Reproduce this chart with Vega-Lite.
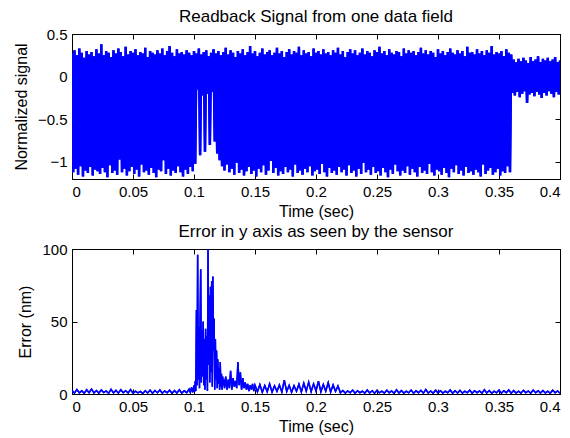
{
"$schema": "https://vega.github.io/schema/vega-lite/v6.json",
"padding": {"left": 12, "top": 7, "right": 9, "bottom": 2},
"config": {
  "font": "Liberation Sans",
  "view": {"stroke": "black", "strokeWidth": 1},
  "axis": {"grid": false, "domainColor": "black", "tickColor": "black", "labelColor": "black", "titleColor": "black", "labelFontSize": 15, "titleFontSize": 16, "titleFontWeight": "normal", "tickSize": -5, "labelPadding": 10},
  "axisX": {"titlePadding": 4},
  "axisY": {"titlePadding": 8},
  "title": {"fontSize": 17, "fontWeight": "normal", "color": "black", "offset": 1}
},
"datasets": {
"sig": [
{"t":0.000,"v":0.27},{"t":0.001,"v":-1.12},{"t":0.002,"v":0.31},{"t":0.003,"v":-1.08},{"t":0.004,"v":0.25},{"t":0.005,"v":-1.15},{"t":0.006,"v":0.33},{"t":0.007,"v":-1.05},{"t":0.008,"v":0.28},{"t":0.009,"v":-1.17},
{"t":0.010,"v":0.22},{"t":0.011,"v":-1.10},{"t":0.012,"v":0.30},{"t":0.013,"v":-1.13},{"t":0.014,"v":0.26},{"t":0.015,"v":-1.06},{"t":0.016,"v":0.29},{"t":0.017,"v":-1.16},{"t":0.018,"v":0.24},{"t":0.019,"v":-1.09},
{"t":0.020,"v":0.32},{"t":0.021,"v":-1.11},{"t":0.022,"v":0.27},{"t":0.023,"v":-1.14},{"t":0.024,"v":0.38},{"t":0.025,"v":-1.07},{"t":0.026,"v":0.25},{"t":0.027,"v":-1.12},{"t":0.028,"v":0.30},{"t":0.029,"v":-1.18},
{"t":0.030,"v":0.28},{"t":0.031,"v":-1.04},{"t":0.032,"v":0.23},{"t":0.033,"v":-1.13},{"t":0.034,"v":0.31},{"t":0.035,"v":-1.10},{"t":0.036,"v":0.27},{"t":0.037,"v":-1.15},{"t":0.038,"v":0.33},{"t":0.039,"v":-0.97},
{"t":0.040,"v":0.29},{"t":0.041,"v":-1.12},{"t":0.042,"v":0.24},{"t":0.043,"v":-1.08},{"t":0.044,"v":0.35},{"t":0.045,"v":-1.16},{"t":0.046,"v":0.26},{"t":0.047,"v":-1.11},{"t":0.048,"v":0.30},{"t":0.049,"v":-1.06},
{"t":0.050,"v":0.28},{"t":0.051,"v":-1.14},{"t":0.052,"v":0.32},{"t":0.053,"v":-1.09},{"t":0.054,"v":0.25},{"t":0.055,"v":-1.17},{"t":0.056,"v":0.29},{"t":0.057,"v":-1.03},{"t":0.058,"v":0.27},{"t":0.059,"v":-1.12},
{"t":0.060,"v":0.34},{"t":0.061,"v":-1.10},{"t":0.062,"v":0.23},{"t":0.063,"v":-1.15},{"t":0.064,"v":0.30},{"t":0.065,"v":-1.07},{"t":0.066,"v":0.28},{"t":0.067,"v":-1.13},{"t":0.068,"v":0.26},{"t":0.069,"v":-1.18},
{"t":0.070,"v":0.31},{"t":0.071,"v":-1.09},{"t":0.072,"v":0.27},{"t":0.073,"v":-1.11},{"t":0.074,"v":0.33},{"t":0.075,"v":-0.98},{"t":0.076,"v":0.25},{"t":0.077,"v":-1.14},{"t":0.078,"v":0.30},{"t":0.079,"v":-1.08},
{"t":0.080,"v":0.36},{"t":0.081,"v":-1.16},{"t":0.082,"v":0.28},{"t":0.083,"v":-1.10},{"t":0.084,"v":0.24},{"t":0.085,"v":-1.13},{"t":0.086,"v":0.32},{"t":0.087,"v":-1.05},{"t":0.088,"v":0.27},{"t":0.089,"v":-1.12},
{"t":0.090,"v":0.29},{"t":0.091,"v":-1.17},{"t":0.092,"v":0.26},{"t":0.093,"v":-1.09},{"t":0.094,"v":0.31},{"t":0.095,"v":-1.14},{"t":0.096,"v":0.28},{"t":0.097,"v":-1.06},{"t":0.098,"v":0.25},{"t":0.099,"v":-1.11},
{"t":0.100,"v":0.30},{"t":0.101,"v":-1.02},{"t":0.102,"v":0.27},{"t":0.103,"v":-0.15},{"t":0.104,"v":0.33},{"t":0.105,"v":-0.92},{"t":0.106,"v":0.26},{"t":0.107,"v":-0.22},{"t":0.108,"v":0.29},{"t":0.109,"v":-0.88},
{"t":0.110,"v":0.31},{"t":0.111,"v":-0.20},{"t":0.112,"v":0.24},{"t":0.113,"v":-0.80},{"t":0.114,"v":0.28},{"t":0.115,"v":-0.18},{"t":0.116,"v":0.32},{"t":0.117,"v":-0.76},{"t":0.118,"v":0.27},{"t":0.119,"v":-0.90},
{"t":0.120,"v":0.30},{"t":0.121,"v":-0.98},{"t":0.122,"v":0.25},{"t":0.123,"v":-1.05},{"t":0.124,"v":0.29},{"t":0.125,"v":-1.10},{"t":0.126,"v":0.34},{"t":0.127,"v":-1.03},{"t":0.128,"v":0.26},{"t":0.129,"v":-1.12},
{"t":0.130,"v":0.31},{"t":0.131,"v":-1.08},{"t":0.132,"v":0.28},{"t":0.133,"v":-1.15},{"t":0.134,"v":0.23},{"t":0.135,"v":-1.01},{"t":0.136,"v":0.30},{"t":0.137,"v":-1.13},{"t":0.138,"v":0.27},{"t":0.139,"v":-1.09},
{"t":0.140,"v":0.32},{"t":0.141,"v":-1.16},{"t":0.142,"v":0.25},{"t":0.143,"v":-1.11},{"t":0.144,"v":0.29},{"t":0.145,"v":-1.06},{"t":0.146,"v":0.36},{"t":0.147,"v":-1.14},{"t":0.148,"v":0.27},{"t":0.149,"v":-1.10},
{"t":0.150,"v":0.30},{"t":0.151,"v":-1.17},{"t":0.152,"v":0.24},{"t":0.153,"v":-1.08},{"t":0.154,"v":0.28},{"t":0.155,"v":-1.12},{"t":0.156,"v":0.33},{"t":0.157,"v":-1.04},{"t":0.158,"v":0.26},{"t":0.159,"v":-1.15},
{"t":0.160,"v":0.29},{"t":0.161,"v":-1.10},{"t":0.162,"v":0.31},{"t":0.163,"v":-0.99},{"t":0.164,"v":0.25},{"t":0.165,"v":-1.13},{"t":0.166,"v":0.28},{"t":0.167,"v":-1.07},{"t":0.168,"v":0.34},{"t":0.169,"v":-1.16},
{"t":0.170,"v":0.27},{"t":0.171,"v":-1.11},{"t":0.172,"v":0.30},{"t":0.173,"v":-1.14},{"t":0.174,"v":0.23},{"t":0.175,"v":-1.06},{"t":0.176,"v":0.29},{"t":0.177,"v":-1.12},{"t":0.178,"v":0.32},{"t":0.179,"v":-1.09},
{"t":0.180,"v":0.26},{"t":0.181,"v":-1.17},{"t":0.182,"v":0.30},{"t":0.183,"v":-1.03},{"t":0.184,"v":0.28},{"t":0.185,"v":-1.13},{"t":0.186,"v":0.35},{"t":0.187,"v":-1.10},{"t":0.188,"v":0.25},{"t":0.189,"v":-1.15},
{"t":0.190,"v":0.31},{"t":0.191,"v":-1.08},{"t":0.192,"v":0.27},{"t":0.193,"v":-1.12},{"t":0.194,"v":0.29},{"t":0.195,"v":-1.05},{"t":0.196,"v":0.24},{"t":0.197,"v":-1.16},{"t":0.198,"v":0.33},{"t":0.199,"v":-1.11},
{"t":0.200,"v":0.28},{"t":0.201,"v":-1.09},{"t":0.202,"v":0.30},{"t":0.203,"v":-1.14},{"t":0.204,"v":0.26},{"t":0.205,"v":-1.02},{"t":0.206,"v":0.32},{"t":0.207,"v":-1.12},{"t":0.208,"v":0.27},{"t":0.209,"v":-1.17},
{"t":0.210,"v":0.29},{"t":0.211,"v":-1.07},{"t":0.212,"v":0.25},{"t":0.213,"v":-1.13},{"t":0.214,"v":0.31},{"t":0.215,"v":-1.10},{"t":0.216,"v":0.28},{"t":0.217,"v":-1.15},{"t":0.218,"v":0.34},{"t":0.219,"v":-1.06},
{"t":0.220,"v":0.26},{"t":0.221,"v":-1.12},{"t":0.222,"v":0.30},{"t":0.223,"v":-1.09},{"t":0.224,"v":0.23},{"t":0.225,"v":-1.16},{"t":0.226,"v":0.29},{"t":0.227,"v":-1.04},{"t":0.228,"v":0.32},{"t":0.229,"v":-1.13},
{"t":0.230,"v":0.27},{"t":0.231,"v":-1.10},{"t":0.232,"v":0.31},{"t":0.233,"v":-1.17},{"t":0.234,"v":0.25},{"t":0.235,"v":-1.08},{"t":0.236,"v":0.28},{"t":0.237,"v":-1.14},{"t":0.238,"v":0.33},{"t":0.239,"v":-1.01},
{"t":0.240,"v":0.26},{"t":0.241,"v":-1.12},{"t":0.242,"v":0.30},{"t":0.243,"v":-1.09},{"t":0.244,"v":0.28},{"t":0.245,"v":-1.15},{"t":0.246,"v":0.24},{"t":0.247,"v":-1.06},{"t":0.248,"v":0.31},{"t":0.249,"v":-1.13},
{"t":0.250,"v":0.29},{"t":0.251,"v":-1.11},{"t":0.252,"v":0.35},{"t":0.253,"v":-1.16},{"t":0.254,"v":0.27},{"t":0.255,"v":-1.07},{"t":0.256,"v":0.30},{"t":0.257,"v":-1.12},{"t":0.258,"v":0.25},{"t":0.259,"v":-1.18},
{"t":0.260,"v":0.32},{"t":0.261,"v":-1.09},{"t":0.262,"v":0.28},{"t":0.263,"v":-1.14},{"t":0.264,"v":0.26},{"t":0.265,"v":-1.03},{"t":0.266,"v":0.30},{"t":0.267,"v":-1.11},{"t":0.268,"v":0.29},{"t":0.269,"v":-1.16},
{"t":0.270,"v":0.24},{"t":0.271,"v":-1.10},{"t":0.272,"v":0.33},{"t":0.273,"v":-1.13},{"t":0.274,"v":0.27},{"t":0.275,"v":-1.05},{"t":0.276,"v":0.31},{"t":0.277,"v":-1.15},{"t":0.278,"v":0.28},{"t":0.279,"v":-1.08},
{"t":0.280,"v":0.30},{"t":0.281,"v":-1.12},{"t":0.282,"v":0.25},{"t":0.283,"v":-1.17},{"t":0.284,"v":0.29},{"t":0.285,"v":-1.06},{"t":0.286,"v":0.34},{"t":0.287,"v":-1.13},{"t":0.288,"v":0.27},{"t":0.289,"v":-1.10},
{"t":0.290,"v":0.31},{"t":0.291,"v":-1.14},{"t":0.292,"v":0.26},{"t":0.293,"v":-1.02},{"t":0.294,"v":0.30},{"t":0.295,"v":-1.12},{"t":0.296,"v":0.28},{"t":0.297,"v":-1.16},{"t":0.298,"v":0.23},{"t":0.299,"v":-1.09},
{"t":0.300,"v":0.32},{"t":0.301,"v":-1.11},{"t":0.302,"v":0.27},{"t":0.303,"v":-1.15},{"t":0.304,"v":0.30},{"t":0.305,"v":-1.07},{"t":0.306,"v":0.25},{"t":0.307,"v":-1.13},{"t":0.308,"v":0.29},{"t":0.309,"v":-1.18},
{"t":0.310,"v":0.33},{"t":0.311,"v":-1.08},{"t":0.312,"v":0.28},{"t":0.313,"v":-1.12},{"t":0.314,"v":0.26},{"t":0.315,"v":-1.04},{"t":0.316,"v":0.31},{"t":0.317,"v":-1.14},{"t":0.318,"v":0.27},{"t":0.319,"v":-1.10},
{"t":0.320,"v":0.30},{"t":0.321,"v":-1.16},{"t":0.322,"v":0.24},{"t":0.323,"v":-1.06},{"t":0.324,"v":0.35},{"t":0.325,"v":-1.13},{"t":0.326,"v":0.28},{"t":0.327,"v":-1.11},{"t":0.328,"v":0.29},{"t":0.329,"v":-1.15},
{"t":0.330,"v":0.26},{"t":0.331,"v":-1.09},{"t":0.332,"v":0.32},{"t":0.333,"v":-1.12},{"t":0.334,"v":0.27},{"t":0.335,"v":-1.17},{"t":0.336,"v":0.30},{"t":0.337,"v":-1.03},{"t":0.338,"v":0.25},{"t":0.339,"v":-1.14},
{"t":0.340,"v":0.31},{"t":0.341,"v":-1.10},{"t":0.342,"v":0.28},{"t":0.343,"v":-1.07},{"t":0.344,"v":0.36},{"t":0.345,"v":-1.15},{"t":0.346,"v":0.26},{"t":0.347,"v":-1.12},{"t":0.348,"v":0.29},{"t":0.349,"v":-1.08},
{"t":0.350,"v":0.27},{"t":0.351,"v":-1.16},{"t":0.352,"v":0.30},{"t":0.353,"v":-1.11},{"t":0.354,"v":0.24},{"t":0.355,"v":-1.13},{"t":0.356,"v":0.32},{"t":0.357,"v":-1.05},{"t":0.358,"v":0.28},{"t":0.359,"v":-1.12},
{"t":0.360,"v":0.26},{"t":0.361,"v":-0.19},{"t":0.362,"v":0.20},{"t":0.363,"v":-0.22},{"t":0.364,"v":0.17},{"t":0.365,"v":-0.18},{"t":0.366,"v":0.21},{"t":0.367,"v":-0.24},{"t":0.368,"v":0.18},{"t":0.369,"v":-0.20},
{"t":0.370,"v":0.22},{"t":0.371,"v":-0.17},{"t":0.372,"v":0.19},{"t":0.373,"v":-0.31},{"t":0.374,"v":0.16},{"t":0.375,"v":-0.21},{"t":0.376,"v":0.23},{"t":0.377,"v":-0.19},{"t":0.378,"v":0.18},{"t":0.379,"v":-0.23},
{"t":0.380,"v":0.20},{"t":0.381,"v":-0.18},{"t":0.382,"v":0.24},{"t":0.383,"v":-0.21},{"t":0.384,"v":0.17},{"t":0.385,"v":-0.25},{"t":0.386,"v":0.21},{"t":0.387,"v":-0.19},{"t":0.388,"v":0.19},{"t":0.389,"v":-0.22},
{"t":0.390,"v":0.22},{"t":0.391,"v":-0.17},{"t":0.392,"v":0.18},{"t":0.393,"v":-0.20},{"t":0.394,"v":0.20},{"t":0.395,"v":-0.24},{"t":0.396,"v":0.23},{"t":0.397,"v":-0.18},{"t":0.398,"v":0.17},{"t":0.399,"v":-0.21},
{"t":0.400,"v":0.19}
],
"err": [
{"t":0.000,"e":2.6},{"t":0.002,"e":0.6},{"t":0.004,"e":3.1},{"t":0.006,"e":0.8},{"t":0.008,"e":2.2},{"t":0.010,"e":0.5},{"t":0.012,"e":2.9},{"t":0.014,"e":0.9},{"t":0.016,"e":3.4},{"t":0.018,"e":0.7},
{"t":0.020,"e":2.4},{"t":0.022,"e":0.6},{"t":0.024,"e":2.8},{"t":0.026,"e":1.0},{"t":0.028,"e":2.1},{"t":0.030,"e":0.5},{"t":0.032,"e":3.2},{"t":0.034,"e":0.8},{"t":0.036,"e":2.5},{"t":0.038,"e":0.6},
{"t":0.040,"e":2.9},{"t":0.042,"e":0.9},{"t":0.044,"e":2.3},{"t":0.046,"e":0.7},{"t":0.048,"e":3.0},{"t":0.050,"e":0.5},{"t":0.052,"e":2.0},{"t":0.054,"e":0.8},{"t":0.056,"e":1.8},{"t":0.058,"e":0.4},
{"t":0.060,"e":2.2},{"t":0.062,"e":0.7},{"t":0.064,"e":2.7},{"t":0.066,"e":0.5},{"t":0.068,"e":2.4},{"t":0.070,"e":0.9},{"t":0.072,"e":2.8},{"t":0.074,"e":0.6},{"t":0.076,"e":2.1},{"t":0.078,"e":0.8},
{"t":0.080,"e":2.6},{"t":0.082,"e":0.5},{"t":0.084,"e":2.3},{"t":0.086,"e":0.7},{"t":0.088,"e":2.9},{"t":0.090,"e":0.6},{"t":0.092,"e":2.2},{"t":0.094,"e":0.9},{"t":0.096,"e":3.3},
{"t":0.097,"e":1.0},{"t":0.098,"e":4.5},{"t":0.099,"e":1.2},
{"t":0.1000,"e":6},{"t":0.1005,"e":1.5},{"t":0.1010,"e":9},{"t":0.1015,"e":2},{"t":0.1020,"e":58},{"t":0.1025,"e":6},{"t":0.1030,"e":96},{"t":0.1035,"e":10},{"t":0.1040,"e":46},{"t":0.1045,"e":4},
{"t":0.1050,"e":52},{"t":0.1055,"e":86},{"t":0.1060,"e":8},{"t":0.1065,"e":44},{"t":0.1070,"e":12},{"t":0.1075,"e":50},{"t":0.1080,"e":6},{"t":0.1085,"e":38},{"t":0.1090,"e":3},{"t":0.1095,"e":45},
{"t":0.1100,"e":10},{"t":0.1105,"e":40},{"t":0.1110,"e":2},{"t":0.1115,"e":100},{"t":0.1120,"e":20},{"t":0.1125,"e":68},{"t":0.1130,"e":8},{"t":0.1135,"e":74},{"t":0.1140,"e":15},{"t":0.1145,"e":78},
{"t":0.1150,"e":5},{"t":0.1155,"e":81},{"t":0.1160,"e":30},{"t":0.1165,"e":52},{"t":0.1170,"e":3},{"t":0.1175,"e":38},{"t":0.1180,"e":10},{"t":0.1185,"e":30},{"t":0.1190,"e":4},{"t":0.1195,"e":24},
{"t":0.1200,"e":7},{"t":0.1205,"e":18},{"t":0.1210,"e":3},{"t":0.1215,"e":22},{"t":0.1220,"e":5},{"t":0.1225,"e":14},{"t":0.1230,"e":3},{"t":0.1235,"e":12},{"t":0.1240,"e":6},{"t":0.1245,"e":10},
{"t":0.1250,"e":4},{"t":0.126,"e":12},
{"t":0.127,"e":3},{"t":0.128,"e":10},{"t":0.129,"e":4},{"t":0.130,"e":16},{"t":0.131,"e":3},{"t":0.132,"e":11},{"t":0.133,"e":5},{"t":0.134,"e":9},{"t":0.135,"e":4},{"t":0.136,"e":22},
{"t":0.137,"e":6},{"t":0.138,"e":15},{"t":0.139,"e":3},{"t":0.140,"e":11},{"t":0.141,"e":4},{"t":0.142,"e":8},{"t":0.143,"e":3},{"t":0.144,"e":7},{"t":0.145,"e":2},{"t":0.146,"e":6},
{"t":0.147,"e":3},{"t":0.148,"e":7},{"t":0.149,"e":2},{"t":0.150,"e":6},
{"t":0.152,"e":1.5},{"t":0.154,"e":6.5},{"t":0.156,"e":1.2},{"t":0.158,"e":5.8},{"t":0.160,"e":1.6},{"t":0.162,"e":7.0},{"t":0.164,"e":1.3},{"t":0.166,"e":5.5},{"t":0.168,"e":1.8},{"t":0.170,"e":6.2},
{"t":0.172,"e":1.4},{"t":0.174,"e":9.5},{"t":0.176,"e":1.7},{"t":0.178,"e":6.0},{"t":0.180,"e":1.2},{"t":0.182,"e":5.7},{"t":0.184,"e":1.9},{"t":0.186,"e":6.8},{"t":0.188,"e":1.4},{"t":0.190,"e":7.5},
{"t":0.192,"e":2.0},{"t":0.194,"e":8.2},{"t":0.196,"e":1.6},{"t":0.198,"e":7.0},{"t":0.200,"e":2.2},{"t":0.202,"e":8.8},{"t":0.204,"e":1.5},{"t":0.206,"e":6.5},{"t":0.208,"e":2.0},{"t":0.210,"e":7.8},
{"t":0.212,"e":1.3},{"t":0.214,"e":6.2},{"t":0.216,"e":1.8},{"t":0.218,"e":5.5},{"t":0.220,"e":0.8},
{"t":0.222,"e":2.4},{"t":0.224,"e":0.6},{"t":0.226,"e":2.1},{"t":0.228,"e":0.8},{"t":0.230,"e":2.7},{"t":0.232,"e":0.5},{"t":0.234,"e":2.3},{"t":0.236,"e":0.9},{"t":0.238,"e":2.0},{"t":0.240,"e":0.6},
{"t":0.242,"e":2.8},{"t":0.244,"e":0.7},{"t":0.246,"e":2.2},{"t":0.248,"e":0.5},{"t":0.250,"e":2.5},{"t":0.252,"e":0.8},{"t":0.254,"e":1.9},{"t":0.256,"e":0.6},{"t":0.258,"e":2.6},{"t":0.260,"e":0.9},
{"t":0.262,"e":2.1},{"t":0.264,"e":0.5},{"t":0.266,"e":2.9},{"t":0.268,"e":0.7},{"t":0.270,"e":2.3},{"t":0.272,"e":0.6},{"t":0.274,"e":2.0},{"t":0.276,"e":0.8},{"t":0.278,"e":2.7},{"t":0.280,"e":0.5},
{"t":0.282,"e":2.2},{"t":0.284,"e":0.9},{"t":0.286,"e":2.5},{"t":0.288,"e":0.6},{"t":0.290,"e":3.0},{"t":0.292,"e":0.7},{"t":0.294,"e":2.1},{"t":0.296,"e":0.5},{"t":0.298,"e":2.6},{"t":0.300,"e":0.8},
{"t":0.302,"e":2.3},{"t":0.304,"e":0.6},{"t":0.306,"e":1.9},{"t":0.308,"e":0.9},{"t":0.310,"e":2.8},{"t":0.312,"e":0.5},{"t":0.314,"e":2.2},{"t":0.316,"e":0.7},{"t":0.318,"e":2.5},{"t":0.320,"e":0.6},
{"t":0.322,"e":2.0},{"t":0.324,"e":0.8},{"t":0.326,"e":2.7},{"t":0.328,"e":0.5},{"t":0.330,"e":2.3},{"t":0.332,"e":0.9},{"t":0.334,"e":2.1},{"t":0.336,"e":0.6},{"t":0.338,"e":2.9},{"t":0.340,"e":0.7},
{"t":0.342,"e":2.4},{"t":0.344,"e":0.5},{"t":0.346,"e":2.0},{"t":0.348,"e":0.8},{"t":0.350,"e":2.6},{"t":0.352,"e":0.6},{"t":0.354,"e":2.2},{"t":0.356,"e":0.9},{"t":0.358,"e":2.8},{"t":0.360,"e":0.5},
{"t":0.362,"e":2.3},{"t":0.364,"e":0.7},{"t":0.366,"e":2.0},{"t":0.368,"e":0.6},{"t":0.370,"e":2.5},{"t":0.372,"e":0.8},{"t":0.374,"e":2.1},{"t":0.376,"e":0.5},{"t":0.378,"e":2.7},{"t":0.380,"e":0.9},
{"t":0.382,"e":2.2},{"t":0.384,"e":0.6},{"t":0.386,"e":2.4},{"t":0.388,"e":0.7},{"t":0.390,"e":1.9},{"t":0.392,"e":0.5},{"t":0.394,"e":2.6},{"t":0.396,"e":0.8},{"t":0.398,"e":2.1},{"t":0.400,"e":0.6}
]
},
"vconcat": [
{
  "title": "Readback Signal from one data field",
  "width": 488, "height": 145,
  "data": {"name": "sig"},
  "layer": [
    {"mark": {"type": "line", "color": "#0000ff", "strokeWidth": 2.4, "clip": true},
     "encoding": {
       "x": {"field": "t", "type": "quantitative", "scale": {"domain": [0, 0.4], "nice": false}, "axis": {"title": "Time (sec)", "values": [0,0.05,0.1,0.15,0.2,0.25,0.3,0.35,0.4], "format": "~g"}},
       "y": {"field": "v", "type": "quantitative", "scale": {"domain": [-1.2, 0.5], "nice": false, "zero": false}, "axis": {"title": "Normalized signal", "values": [-1,-0.5,0,0.5], "format": "~g"}}
     }},
    {"mark": {"type": "line", "color": "#0000ff", "strokeWidth": 2.4, "clip": true},
     "encoding": {
       "x": {"field": "t", "type": "quantitative", "axis": {"orient": "top", "title": null, "labels": false, "values": [0,0.05,0.1,0.15,0.2,0.25,0.3,0.35,0.4]}},
       "y": {"field": "v", "type": "quantitative", "axis": {"orient": "right", "title": null, "labels": false, "values": [-1,-0.5,0,0.5]}}
     }}
  ],
  "resolve": {"axis": {"x": "independent", "y": "independent"}}
},
{
  "title": "Error in y axis as seen by the sensor",
  "width": 488, "height": 145,
  "data": {"name": "err"},
  "layer": [
    {"mark": {"type": "line", "color": "#0000ff", "strokeWidth": 1.5, "clip": true},
     "encoding": {
       "x": {"field": "t", "type": "quantitative", "scale": {"domain": [0, 0.4], "nice": false}, "axis": {"title": "Time (sec)", "values": [0,0.05,0.1,0.15,0.2,0.25,0.3,0.35,0.4], "format": "~g"}},
       "y": {"field": "e", "type": "quantitative", "scale": {"domain": [0, 100], "nice": false}, "axis": {"title": "Error (nm)", "values": [0,50,100]}}
     }},
    {"mark": {"type": "line", "color": "#0000ff", "strokeWidth": 1.5, "clip": true},
     "encoding": {
       "x": {"field": "t", "type": "quantitative", "axis": {"orient": "top", "title": null, "labels": false, "values": [0,0.05,0.1,0.15,0.2,0.25,0.3,0.35,0.4]}},
       "y": {"field": "e", "type": "quantitative", "axis": {"orient": "right", "title": null, "labels": false, "values": [0,50,100]}}
     }}
  ],
  "resolve": {"axis": {"x": "independent", "y": "independent"}}
}
],
"spacing": 2
}
